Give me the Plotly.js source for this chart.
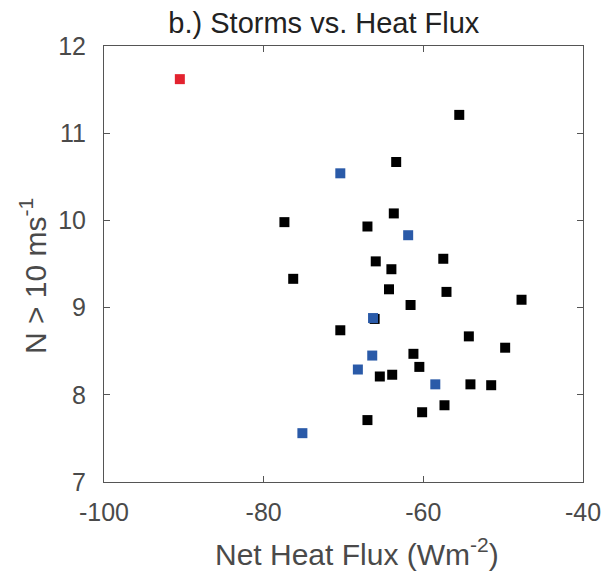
<!DOCTYPE html>
<html><head><meta charset="utf-8">
<script src="https://cdn.plot.ly/plotly-3.0.1.min.js"></script>
<style>body{margin:0;background:#fff}#chart{width:611px;height:573px}</style>
</head><body><div id="chart"></div>
<script>
// Black points (heat flux, storm count)
const blackX = [-55.5, -63.4, -63.7, -77.4, -67.0, -65.96, -57.5, -64.0, -76.3, -64.3, -57.1, -47.7, -61.6, -66.1, -70.4, -54.3, -49.75, -61.24, -60.5, -65.45, -63.9, -54.1, -51.5, -57.35, -60.15, -67.0];
const blackY = [11.21, 10.67, 10.08, 9.98, 9.93, 9.53, 9.56, 9.44, 9.33, 9.21, 9.18, 9.09, 9.03, 8.87, 8.74, 8.67, 8.54, 8.47, 8.32, 8.21, 8.23, 8.12, 8.11, 7.88, 7.80, 7.71];
// Blue points
const blueX = [-70.4, -61.9, -66.3, -66.4, -68.2, -58.5, -75.15];
const blueY = [10.54, 9.83, 8.88, 8.45, 8.29, 8.12, 7.56];
// Red point
const redX = [-90.5];
const redY = [11.62];

const xTicks = [-100, -80, -60, -40];
const yTicks = [7, 8, 9, 10, 11, 12];
const titleText = 'b.) Storms vs. Heat Flux';
const xTitle = 'Net Heat Flux (Wm<sup>-2</sup>)';
const yTitle = 'N > 10 ms<sup>-1</sup>';

const mk = (x, y, c) => ({
  x: x, y: y, type: 'scatter', mode: 'markers', hoverinfo: 'skip',
  marker: {symbol: 'square', size: 10, color: c, line: {width: 0}}
});

const fam = 'Liberation Sans, Arial, Helvetica, sans-serif';
const grey = '#4a4a4a';
const axCommon = {
  showgrid: false, zeroline: false, showline: true, mirror: 'ticks',
  linecolor: '#555', linewidth: 1, ticks: 'inside', ticklen: 6, tickcolor: '#555', tickwidth: 1,
  tickfont: {family: fam, color: grey, size: 25}
};

const layout = {
  width: 611, height: 573,
  margin: {l: 104, r: 28, t: 46, b: 91},
  paper_bgcolor: '#fff', plot_bgcolor: '#fff',
  showlegend: false,
  font: {family: fam, color: grey},
  title: {text: titleText, font: {family: fam, color: '#222', size: 29}, x: 0.459, xanchor: 'center', y: 0.96, yanchor: 'middle', xref: 'paper'},
  xaxis: Object.assign({}, axCommon, {
    range: [-100, -40], tickvals: xTicks, ticktext: xTicks.map(String),
    ticklabelstandoff: 8
  }),
  yaxis: Object.assign({}, axCommon, {
    range: [7, 12], tickvals: yTicks, ticktext: yTicks.map(String),
    ticklabelstandoff: 12
  }),
  annotations: [
    {text: xTitle, xref: 'paper', yref: 'paper', x: 0.528, y: -0.16, xanchor: 'center', yanchor: 'middle',
     showarrow: false, font: {family: fam, color: grey, size: 30}},
    {text: yTitle, xref: 'paper', yref: 'paper', x: -0.148, y: 0.4725, xanchor: 'center', yanchor: 'middle',
     textangle: -90, showarrow: false, font: {family: fam, color: grey, size: 30}}
  ]
};

Plotly.newPlot('chart', [mk(blackX, blackY, '#000000'), mk(blueX, blueY, '#2a5aa8'), mk(redX, redY, '#e3232f')], layout, {staticPlot: true, displayModeBar: false});
</script></body></html>
